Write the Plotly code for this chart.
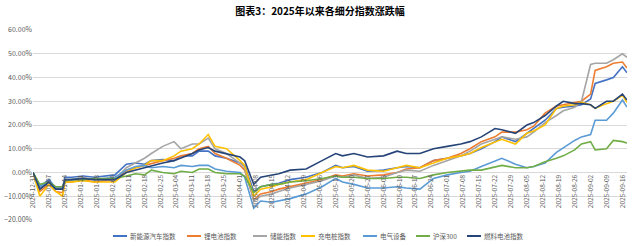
import plotly.graph_objects as go
from datetime import date, timedelta

dates = ["2024-12-31","2025-01-03","2025-01-07","2025-01-10","2025-01-13","2025-01-14","2025-01-17","2025-01-22","2025-01-27",
         "2025-02-05","2025-02-10","2025-02-14","2025-02-18","2025-02-21","2025-02-26","2025-03-03","2025-03-06",
         "2025-03-11","2025-03-14","2025-03-18","2025-03-21","2025-03-26","2025-04-01","2025-04-03","2025-04-07",
         "2025-04-10","2025-04-15","2025-04-18","2025-04-23","2025-04-30","2025-05-07","2025-05-13","2025-05-16",
         "2025-05-21","2025-05-27","2025-06-03","2025-06-09","2025-06-13","2025-06-19","2025-06-25","2025-07-01",
         "2025-07-07","2025-07-11","2025-07-16","2025-07-22","2025-07-25","2025-07-31","2025-08-05","2025-08-08",
         "2025-08-13","2025-08-18","2025-08-21","2025-08-26","2025-08-29","2025-09-02","2025-09-04","2025-09-09",
         "2025-09-12","2025-09-16","2025-09-18"]

# values in percent
nev = [0,-6,-3,-6.5,-6.5,-2,-2,-1.5,-2, -1,3.5,4,3.5,5,5.5,5,7, 7,9,9,7,6,4,3,-8,
       -6,-5,-4.5,-3,-2,0,3,2, 2.5,0.5,1,2,2.5,2,5,6, 7,8,10,13,15,13,16.5,18.5,
       22,27,27.5,28,28.5,31,37.5,39, 40,44.5,42]
lithium = [0,-8,-5,-8,-8.5,-4,-4,-3,-4, -3,1,2,3,4,5,6,7, 8,10,11,8,6,3,1,-11.5,
           -9,-8,-7,-6,-4.5,-3,-1,-1.5, -0.5,-1.5,-1,0,1.5,2,5,6, 8,10,13,15,17,17,18,19.5,
           25,28,28.5,29.5,30,33,43,44.5, 46,46.5,44]
storage = [0,-7,-4,-7,-7,-3,-3,-2,-3, -3,2,4,6,8,11,13,10, 12,12,14.5,10,8,4,2,-12,
           -10,-9,-8,-6.5,-5,-3.5,-1.5,-2, -1,-2.5,-2,0,1,0.5,3,5, 7,9,12,14,15,14,15,17,
           21,24,26,27.5,30,45.5,46,46, 47.5,50,48.5]
charging = [0,-10,-5,-8,-10,-4,-4,-3.5,-4, -4,0,2,3,5,5,7,9, 10,12,16,11,10,5,3,-10,
            -7,-6,-5,-4,-3,0,2.5,2, 3,1,0.5,2,3,2,4,6, 7,8,10.5,13,14,12,16.5,17.5,
            20,27,28,28.5,29.5,28.5,27,29, 30,32.5,29.5]
electric = [0,-6,-4,-7,-7,-3,-3,-2.5,-3, -2,1,2.5,3,2,2.5,2,3, 2.5,3,3,1.5,0.5,0,-2,-15,
            -12,-12.5,-12,-11,-9,-6,-2.5,-4, -5,-6.5,-6.5,-6,-6.5,-7,-2.5,-1, 0,0.5,2.5,5,6,3.5,2,2.5,
            4,8.5,10.5,13.5,15,16,22,22, 25,30.5,27.5]
hs300 = [0,-5,-4,-6,-6,-3.5,-3,-3,-2.5, -2.5,-1.5,-0.5,-1,1,0,-0.5,0.5, 0,1.5,1.5,0,-0.5,-0.5,-1.5,-8.5,
         -6,-5,-5,-4,-3.5,-2.5,-1.5,-2, -2,-2.5,-2.5,-2,-2,-2.5,-1,0, 0.5,1,1,2.5,3,2,2,2.5,
         4.5,6,7,9.5,12,13,9.5,10, 13.5,13,12.4]
fuelcell = [0,-7,-4,-7,-7,-3,-3,-2.5,-3, -3,0,1,2,3,4,5,6, 8,9.5,10.5,9,8,6.5,5,-5,
            -2,-1,-0.5,1,1.5,5,8,7, 8,6.5,7,9,8,8,10,11, 12,13,15,18.5,18,16.5,20,21,
            24,28,30,29,29,28.5,27,30, 30,33,30.5]

names = ["新能源汽车指数","锂电池指数","储能指数","充电桩指数","电气设备","沪深300","燃料电池指数"]
series = [nev, lithium, storage, charging, electric, hs300, fuelcell]
colors = ["#4472C4","#ED7D31","#A5A5A5","#FFC000","#5B9BD5","#70AD47","#264478"]

# weekly tick labels
start = date(2024,12,31)
tick_dates = [(start + timedelta(days=7*i)).isoformat() for i in range(38)]

W, H = 640, 246
ML, MR, MT, MB = 33, 13, 30, 26
PW, PH = W - ML - MR, H - MT - MB

fig = go.Figure()
for n, s, c in zip(names, series, colors):
    fig.add_trace(go.Scatter(x=dates, y=[v/100 for v in s], name=n, mode="lines",
                             line=dict(color=c, width=1.6), showlegend=False))

font = "Noto Sans CJK SC, sans-serif"

# manual legend (Excel-style short line samples), entry start pixels
legend_px = [113, 187, 253, 301, 363, 416, 467]
leg_fs = 6.5
leg_y = (H - MB - 236) / PH
for px, n, c in zip(legend_px, names, colors):
    fig.add_shape(type="line", xref="paper", yref="paper",
                  x0=(px - ML) / PW, x1=(px + 14 - ML) / PW, y0=leg_y, y1=leg_y,
                  line=dict(color=c, width=2))
    fig.add_annotation(xref="paper", yref="paper", x=(px + 15 - ML) / PW, y=leg_y,
                       text=n, showarrow=False, xanchor="left", yanchor="middle",
                       font=dict(size=leg_fs, color="#595959", family=font))

fig.update_layout(
    width=W, height=H,
    margin=dict(l=ML, r=MR, t=MT, b=MB, autoexpand=False),
    paper_bgcolor="white", plot_bgcolor="white",
    font=dict(family=font, color="#595959", size=7),
    title=dict(text="<b>图表3：2025年以来各细分指数涨跌幅</b>", x=0.5, xanchor="center",
               y=1 - 11/H, yanchor="middle", font=dict(size=10, color="#000000", family=font)),
    showlegend=False,
    xaxis=dict(type="date", range=["2024-12-31","2025-09-18"], tickmode="array",
               tickvals=tick_dates, ticktext=tick_dates, tickangle=-90,
               anchor="free", position=0.25, showgrid=False, showline=False, ticks="",
               tickfont=dict(size=6.5, color="#595959", family=font), zeroline=False,
               automargin=False),
    yaxis=dict(range=[-0.2, 0.6], dtick=0.1, tickformat=".2%", showgrid=True,
               gridcolor="#D9D9D9", gridwidth=1, zeroline=True, zerolinecolor="#D9D9D9",
               zerolinewidth=1, showline=False, ticks="", automargin=False,
               tickfont=dict(size=7, color="#595959", family=font)),
)
fig.write_html("out.html")
